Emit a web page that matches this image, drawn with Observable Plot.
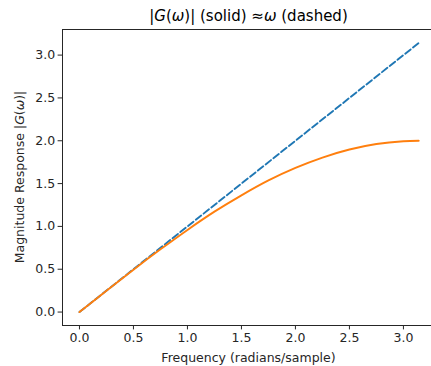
<!DOCTYPE html>
<html>
<head>
<meta charset="utf-8">
<script src="https://cdn.jsdelivr.net/npm/d3@7"></script>
<script src="https://cdn.jsdelivr.net/npm/@observablehq/plot@0.6"></script>
<style>
  html, body { margin: 0; padding: 0; background: #fff; overflow: hidden; }
  svg { display: block; }
  #chart svg text { font-family: "DejaVu Sans" !important; font-size: 12.5px !important; }
  #chart svg text.title { font-size: 15px !important; }
</style>
</head>
<body>
<div id="chart"></div>
<script>
// Data
const omega = [0, 0.25, 0.5, 0.75, 1.0, 1.25, 1.5, 1.75, 2.0, 2.25, 2.5, 2.75, 3.0, 3.1416];
const magnitude = [0, 0.249, 0.495, 0.732, 0.959, 1.172, 1.363, 1.537, 1.683, 1.804, 1.898, 1.962, 1.995, 2.0];
const approxOmega = [0, 3.1416];
const approxValue = [0, 3.1416];
const xTicks = [0, 0.5, 1.0, 1.5, 2.0, 2.5, 3.0];
const yTicks = [0, 0.5, 1.0, 1.5, 2.0, 2.5, 3.0];

const solid = omega.map((w, i) => ({w, m: magnitude[i]}));
const dashed = approxOmega.map((w, i) => ({w, m: approxValue[i]}));

const xDom = [-0.157, 3.26];
const yDom = [-0.157, 3.299];
const fmt = d => d.toFixed(1);

const plot = Plot.plot({
  width: 431,
  height: 366,
  marginLeft: 62,
  marginRight: 0,
  marginTop: 29,
  marginBottom: 41,
  style: {fontFamily: "DejaVu Sans", fontSize: "12.5px", color: "#262626", background: "#fff"},
  x: {domain: xDom, ticks: xTicks, tickFormat: fmt, tickSize: 4.4, tickPadding: 3, label: null},
  y: {domain: yDom, ticks: yTicks, tickFormat: fmt, tickSize: 4.4, tickPadding: 3, label: null},
  marks: [
    Plot.ruleX([xDom[0]], {stroke: "#262626", strokeWidth: 1}),
    Plot.ruleY([yDom[0]], {stroke: "#262626", strokeWidth: 1}),
    Plot.ruleY([yDom[1]], {stroke: "#262626", strokeWidth: 1}),
    Plot.line(dashed, {x: "w", y: "m", stroke: "#1f77b4", strokeWidth: 1.9, strokeDasharray: "6.9,3"}),
    Plot.line(solid, {x: "w", y: "m", stroke: "#ff7f0e", strokeWidth: 1.9, curve: "catmull-rom"})
  ]
});

const svg = d3.select(plot);
const cx = (62 + 435) / 2;
const title = svg.append("text")
  .attr("class", "title")
  .attr("x", cx)
  .attr("y", 21)
  .attr("text-anchor", "middle")
  .attr("fill", "#000");
title.append("tspan").text("|");
title.append("tspan").attr("font-style", "italic").text("G");
title.append("tspan").text("(");
title.append("tspan").attr("font-style", "italic").text("ω");
title.append("tspan").text(")| (solid) ≈");
title.append("tspan").attr("font-style", "italic").text("ω");
title.append("tspan").text(" (dashed)");

svg.append("text")
  .attr("x", cx)
  .attr("y", 362)
  .attr("text-anchor", "middle")
  .attr("fill", "#262626")
  .text("Frequency (radians/sample)");

const yl = svg.append("text")
  .attr("transform", `translate(20,${(29 + 325) / 2}) rotate(-90)`)
  .attr("dy", "0.35em")
  .attr("text-anchor", "middle")
  .attr("fill", "#262626");
yl.append("tspan").text("Magnitude Response |");
yl.append("tspan").attr("font-style", "italic").text("G");
yl.append("tspan").text("(");
yl.append("tspan").attr("font-style", "italic").text("ω");
yl.append("tspan").text(")|");

document.getElementById("chart").appendChild(plot);
</script>
</body>
</html>
